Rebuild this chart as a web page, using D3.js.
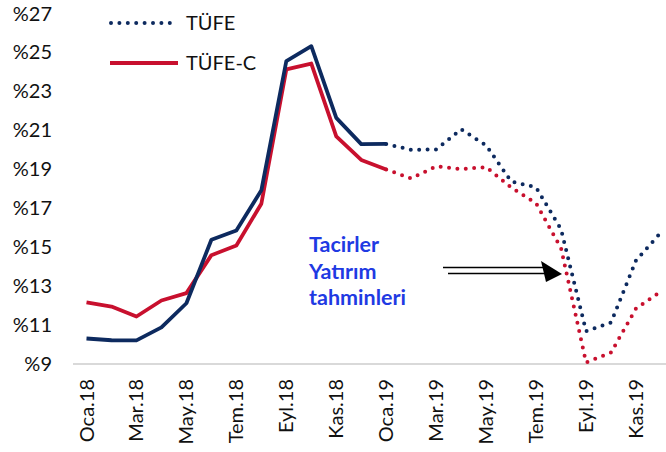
<!DOCTYPE html>
<html>
<head>
<meta charset="utf-8">
<script src="https://cdn.jsdelivr.net/npm/d3@7"></script>
<style>
  body { margin: 0; background: #fff; }
  text { font-family: Lato, "Open Sans", sans-serif; }
</style>
</head>
<body>
<svg width="666" height="452"></svg>
<script>
// months on the x axis (every second one gets a label)
const months = ["Oca.18", "Şub.18", "Mar.18", "Nis.18", "May.18", "Haz.18",
  "Tem.18", "Ağu.18", "Eyl.18", "Eki.18", "Kas.18", "Ara.18",
  "Oca.19", "Şub.19", "Mar.19", "Nis.19", "May.19", "Haz.19",
  "Tem.19", "Ağu.19", "Eyl.19", "Eki.19", "Kas.19", "Ara.19"];

// annual inflation, %
const tufe = [10.31, 10.22, 10.21, 10.88, 12.12, 15.38, 15.86, 17.92, 24.56, 25.32, 21.64, 20.29,
  20.30, 20.00, 20.02, 21.05, 20.23, 18.38, 18.07, 15.91, 10.69, 11.13, 14.32, 15.76];
const tufeC = [12.16, 11.95, 11.44, 12.26, 12.64, 14.59, 15.09, 17.23, 24.13, 24.43, 20.69, 19.48,
  18.99, 18.53, 19.15, 19.01, 19.11, 18.07, 17.25, 14.94, 9.08, 9.59, 11.85, 12.73];

// first month of the forecast (dotted) part
const forecastStart = "Oca.19";

const yTicks = [9, 11, 13, 15, 17, 19, 21, 23, 25, 27];
const annotation = ["Tacirler", "Yatırım", "tahminleri"];

const navy = "#0d2a5f", red = "#c8102e";

const svg = d3.select("svg");

const x = d3.scalePoint().domain(months).range([86.5, 661]);
const y = d3.scaleLinear().domain([9, 27]).range([364, 13.5]);

// y axis labels
svg.append("g")
  .selectAll("text")
  .data(yTicks)
  .enter()
  .append("text")
  .attr("x", 52)
  .attr("y", (d) => y(d))
  .attr("dy", "0.35em")
  .attr("text-anchor", "end")
  .attr("font-size", 20)
  .attr("fill", "#111")
  .text((d) => "%" + d);

// x axis line
svg.append("line")
  .attr("x1", 73).attr("x2", 666)
  .attr("y1", y(9)).attr("y2", y(9))
  .attr("stroke", "#d9d9d9")
  .attr("stroke-width", 2);

// x axis labels, rotated
svg.append("g")
  .selectAll("text")
  .data(months.filter((d, i) => i % 2 === 0))
  .enter()
  .append("text")
  .attr("transform", (d) => `translate(${x(d) + 7},379) rotate(-90)`)
  .attr("text-anchor", "end")
  .attr("font-size", 20)
  .attr("fill", "#111")
  .text((d) => d);

const fi = months.indexOf(forecastStart);

function drawSeries(values, color) {
  const pts = values.map((v, i) => ({ m: months[i], v: v }));
  const line = d3.line().x((d) => x(d.m)).y((d) => y(d.v));

  // actual data: solid
  svg.append("path")
    .datum(pts.slice(0, fi + 1))
    .attr("d", line)
    .attr("fill", "none")
    .attr("stroke", color)
    .attr("stroke-width", 3.8)
    .attr("stroke-linejoin", "round");

  // forecast: round dots
  svg.append("path")
    .datum(pts.slice(fi))
    .attr("d", line)
    .attr("fill", "none")
    .attr("stroke", color)
    .attr("stroke-width", 4)
    .attr("stroke-linecap", "round")
    .attr("stroke-dasharray", "0 8.4")
    .attr("stroke-dashoffset", -8.4);
}

drawSeries(tufeC, red);
drawSeries(tufe, navy);

// legend
const legend = svg.append("g");
legend.append("line")
  .attr("x1", 111).attr("x2", 178).attr("y1", 23).attr("y2", 23)
  .attr("stroke", navy).attr("stroke-width", 4)
  .attr("stroke-linecap", "round").attr("stroke-dasharray", "0 8.4");
legend.append("text")
  .attr("x", 186).attr("y", 23).attr("dy", "0.35em")
  .attr("font-size", 20).attr("fill", "#111").text("TÜFE");
legend.append("line")
  .attr("x1", 110).attr("x2", 178).attr("y1", 63).attr("y2", 63)
  .attr("stroke", red).attr("stroke-width", 4);
legend.append("text")
  .attr("x", 186).attr("y", 63).attr("dy", "0.35em")
  .attr("font-size", 20).attr("fill", "#111").text("TÜFE-C");

// annotation text
svg.append("g")
  .selectAll("text")
  .data(annotation)
  .enter()
  .append("text")
  .attr("x", 309)
  .attr("y", (d, i) => 252 + i * 26.7)
  .attr("font-size", 21.5)
  .attr("font-weight", "bold")
  .attr("fill", "#1f3ae3")
  .text((d) => d);

// double-line arrow
svg.append("line")
  .attr("x1", 443).attr("x2", 546).attr("y1", 267.5).attr("y2", 267.5)
  .attr("stroke", "#000").attr("stroke-width", 1.6);
svg.append("line")
  .attr("x1", 448).attr("x2", 546).attr("y1", 273.5).attr("y2", 273.5)
  .attr("stroke", "#000").attr("stroke-width", 1.6);
svg.append("path")
  .attr("d", "M541,261 L562,274 L546,282 Z")
  .attr("fill", "#000");
</script>
</body>
</html>
